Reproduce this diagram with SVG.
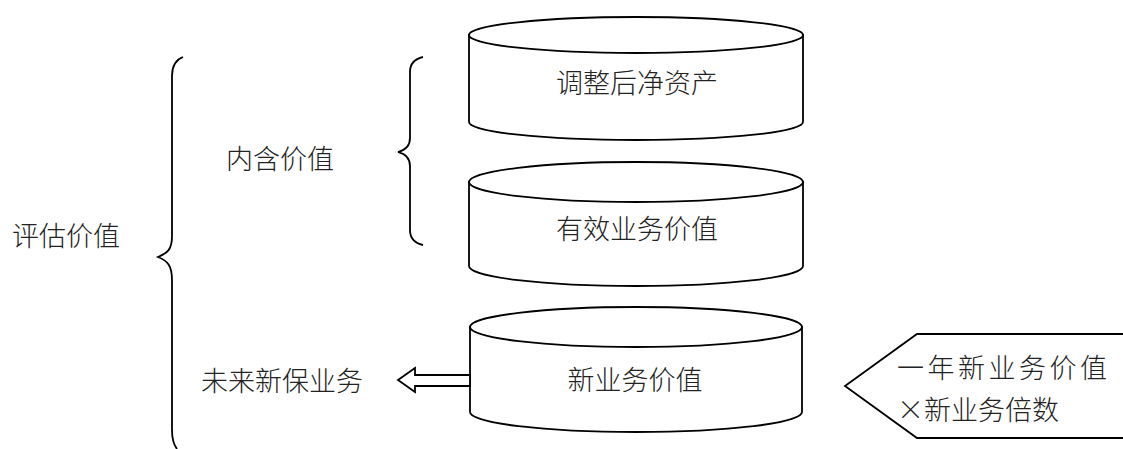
<svg xmlns="http://www.w3.org/2000/svg" width="1123" height="449" viewBox="0 0 1123 449">
<style>
.ln{fill:none;stroke:#000;stroke-width:1.8}
.cyl{fill:#fff;stroke:#000;stroke-width:1.8}
.t{font-family:"Noto Sans CJK SC","Noto Sans",sans-serif;font-size:27px;font-weight:300;fill:#222;dominant-baseline:central}
.c{text-anchor:middle}
</style>
<rect width="1123" height="449" fill="#fff"/>
<g id="label-pinggu"><text class="t" x="12" y="234">评估价值</text></g>
<g id="label-neihan"><text class="t" x="226" y="157">内含价值</text></g>
<g id="label-weilai"><text class="t" x="201" y="379">未来新保业务</text></g>
<g id="braces">
<path class="ln" d="M183,57 C175,60 172,66 172,76 L172,236 C172,249 168,253 158,257 C168,261 172,266 172,280 L172,430 C172,440 174,445 177,449"/>
<path class="ln" d="M423,57 C414,59 410,64 410,72 L410,138 C410,146 406,150 398,152 C406,154 410,158 410,166 L410,230 C410,238 414,243 423,245"/>
</g>
<g id="cyl-1">
<path class="cyl" d="M469,35 L469,122 A167,18 0 0 0 803,122 L803,35 Z"/>
<ellipse class="cyl" cx="636" cy="35" rx="167" ry="18"/>
<text class="t c" x="637" y="81">调整后净资产</text>
</g>
<g id="cyl-2">
<path class="cyl" d="M469,182 L469,266 A167,20 0 0 0 803,266 L803,182 Z"/>
<ellipse class="cyl" cx="636" cy="182" rx="167" ry="20"/>
<text class="t c" x="637" y="227">有效业务价值</text>
</g>
<g id="cyl-3">
<path class="cyl" d="M470,327 L470,412 A166,20 0 0 0 802,412 L802,327 Z"/>
<ellipse class="cyl" cx="636" cy="327" rx="166" ry="20"/>
<text class="t c" x="635" y="378">新业务价值</text>
</g>
<g id="pentagon">
<polygon class="cyl" points="1130,334 917,334 845,386 917,438 1130,438"/>
<text class="t" x="897" y="366" style="letter-spacing:3.5px">一年新业务价值</text>
<text class="t" x="897" y="408">×新业务倍数</text>
</g>
<g id="connectors">
<polygon class="cyl" stroke-width="1.5" points="470,375 415,375 415,368 398,380 415,392 415,386 470,386"/>
</g>
</svg>
